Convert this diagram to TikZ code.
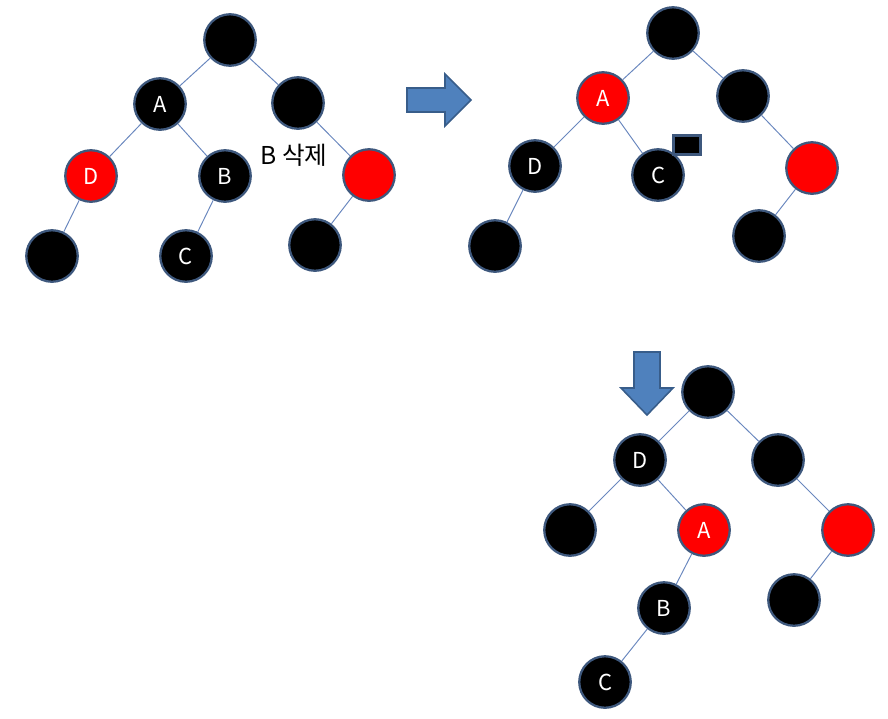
\documentclass[tikz,border=0pt]{standalone}
\usepackage{fontspec}
\setmainfont{Noto Sans CJK KR}
\usetikzlibrary{positioning}
\definecolor{rbred}{RGB}{255,0,0}
\definecolor{rimblue}{RGB}{62,88,125}
\definecolor{edgeblue}{RGB}{105,135,190}
\definecolor{arrowfill}{RGB}{79,129,189}
\definecolor{arrowdraw}{RGB}{56,93,138}

\begin{document}
\begin{tikzpicture}[
    x=0.02cm, y=-0.02cm,
    rb/.style={circle, draw=rimblue, line width=1.3pt, minimum size=1.03cm,
               inner sep=0pt, text=white, font=\fontsize{12.5}{14}\selectfont},
    blk/.style={rb, fill=black},
    red/.style={rb, fill=rbred},
    edge/.style={draw=edgeblue, line width=0.55pt},
    bigarrow/.style={fill=arrowfill, draw=arrowdraw, line width=0.9pt, line join=miter}
]
\useasboundingbox (0,0) rectangle (888,718);

% before deletion
\node[blk] (t1r) at (230,40) {};
\node[blk] (t1a) at (160,104) {A};
\node[blk] (t1s) at (298,103) {};
\node[red] (t1d) at (91,176) {D};
\node[blk] (t1b) at (225,176) {B};
\node[red] (t1x) at (369,175) {};
\node[blk] (t1dl) at (52,256) {};
\node[blk] (t1c) at (186,256) {C};
\node[blk] (t1xl) at (315,245) {};
\node[font=\fontsize{14}{16}\selectfont] (lbl) at (294,155) {B 삭제};

\draw[edge] (t1r) -- (t1a);
\draw[edge] (t1r) -- (t1s);
\draw[edge] (t1a) -- (t1d);
\draw[edge] (t1a) -- (t1b);
\draw[edge] (t1s) -- (t1x);
\draw[edge] (t1d) -- (t1dl);
\draw[edge] (t1b) -- (t1c);
\draw[edge] (t1x) -- (t1xl);

% after deletion, C takes B's place
\node[blk] (t2r) at (673,33) {};
\node[red] (t2a) at (603,98) {A};
\node[blk] (t2s) at (743,96) {};
\node[blk] (t2d) at (535,166) {D};
\node[blk] (t2c) at (658,175) {C};
\node[red] (t2x) at (812,168) {};
\node[blk] (t2dl) at (495,246) {};
\node[blk] (t2xl) at (759,236) {};
\node[draw=rimblue, fill=black, line width=1.3pt, inner sep=0pt,
      minimum width=0.54cm, minimum height=0.38cm] (dbl) at (687,145) {};

\draw[edge] (t2r) -- (t2a);
\draw[edge] (t2r) -- (t2s);
\draw[edge] (t2a) -- (t2d);
\draw[edge] (t2a) -- (t2c);
\draw[edge] (t2s) -- (t2x);
\draw[edge] (t2d) -- (t2dl);
\draw[edge] (t2x) -- (t2xl);

% after rotation
\node[blk] (t3r) at (708,392) {};
\node[blk] (t3d) at (640,460) {D};
\node[blk] (t3s) at (778,460) {};
\node[blk] (t3dl) at (570,530) {};
\node[red] (t3a) at (704,530) {A};
\node[red] (t3x) at (848,530) {};
\node[blk] (t3b) at (664,608) {B};
\node[blk] (t3xl) at (794,600) {};
\node[blk] (t3c) at (605,682) {C};

\draw[edge] (t3r) -- (t3d);
\draw[edge] (t3r) -- (t3s);
\draw[edge] (t3d) -- (t3dl);
\draw[edge] (t3d) -- (t3a);
\draw[edge] (t3s) -- (t3x);
\draw[edge] (t3a) -- (t3b);
\draw[edge] (t3x) -- (t3xl);
\draw[edge] (t3b) -- (t3c);

% block arrows
\filldraw[bigarrow] (407,88) -- (445,88) -- (445,74) -- (471,100)
    -- (445,126) -- (445,112) -- (407,112) -- cycle;
\filldraw[bigarrow] (634,352) -- (660,352) -- (660,388) -- (673,388)
    -- (647,415) -- (621,388) -- (634,388) -- cycle;

\end{tikzpicture}
\end{document}
